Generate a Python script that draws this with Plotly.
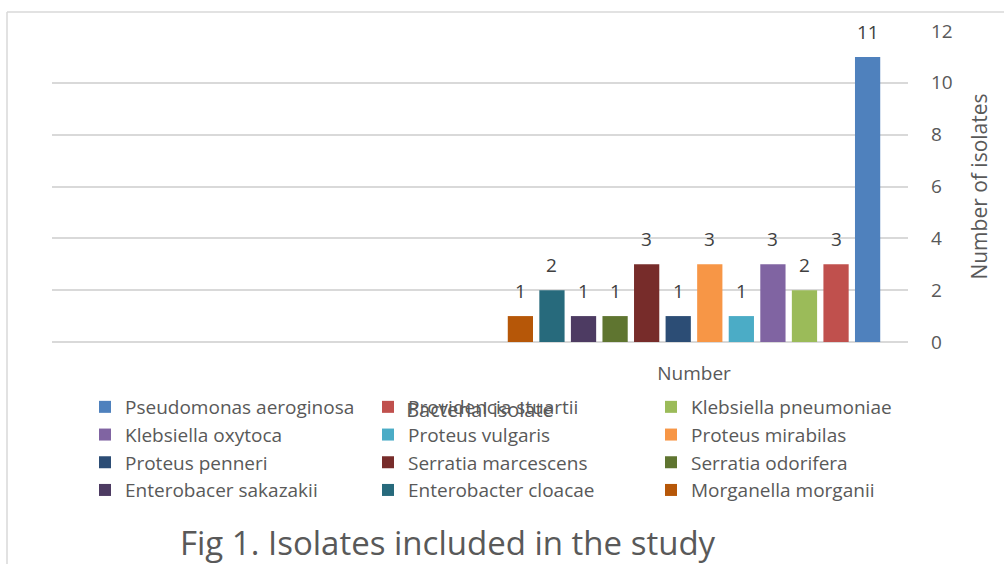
import plotly.graph_objects as go

# ---- data ----
series_names = [
    "Pseudomonas aeroginosa", "Providencia stuartii", "Klebsiella pneumoniae",
    "Klebsiella oxytoca", "Proteus vulgaris", "Proteus mirabilas",
    "Proteus penneri", "Serratia marcescens", "Serratia odorifera",
    "Enterobacer sakazakii", "Enterobacter cloacae", "Morganella morganii",
]
series_values = [11, 3, 2, 3, 1, 3, 1, 3, 1, 1, 2, 1]
series_colors = [
    "#4F81BD", "#C0504D", "#9BBB59", "#8064A2", "#4BACC6", "#F79646",
    "#2C4D75", "#772C2A", "#5F7530", "#4D3B62", "#276A7C", "#B65708",
]
category = ["Number"]
y_ticks = [0, 2, 4, 6, 8, 10, 12]

W, H = 1004, 564
L, R, T, B = 52, 96, 31, 222
PW, PH = W - L - R, H - T - B
BARGAP = 0.115
FONT = "Open Sans"
GREY = "#595959"


def px_x(x):
    return (x - L) / PW


def px_y(y):
    return (H - B - y) / PH


fig = go.Figure()
for name, val, col in zip(series_names, series_values, series_colors):
    fig.add_trace(go.Bar(
        x=category, y=[val], name=name, marker=dict(color=col, line=dict(width=0)),
    ))

# data labels positioned over each grouped bar
n = len(series_values)
gw = 1 - BARGAP
annotations = []
for i, val in enumerate(series_values):
    xc = -gw / 2 + (i + 0.5) * gw / n
    annotations.append(dict(
        x=xc, y=val, xref="x", yref="y", text=str(val), showarrow=False,
        yanchor="bottom", yshift=10, font=dict(family=FONT, size=19, color="#404040"),
    ))

annotations.append(dict(
    x=px_x(448), y=px_y(542), xref="paper", yref="paper",
    text="Fig 1. Isolates included in the study", showarrow=False,
    xanchor="center", yanchor="middle", font=dict(family=FONT, size=33, color=GREY),
))

fig.update_layout(
    width=W, height=H,
    margin=dict(l=L, r=R, t=T, b=B, autoexpand=False),
    paper_bgcolor="white", plot_bgcolor="white",
    barmode="group", bargap=BARGAP, bargroupgap=0.2,
    font=dict(family=FONT, color=GREY),
    showlegend=True,
    legend=dict(
        orientation="h", x=px_x(85), y=px_y(388), xanchor="left", yanchor="top",
        entrywidth=238, entrywidthmode="pixels", traceorder="normal",
        font=dict(family=FONT, size=19, color=GREY), bgcolor="rgba(0,0,0,0)",
        itemclick=False, tracegroupgap=0,
    ),
    xaxis=dict(
        type="category", range=[1.5, -0.5], showgrid=False, zeroline=False,
        showline=False, ticks="", tickfont=dict(family=FONT, size=19, color=GREY),
        ticklabelstandoff=18,
        title=dict(text="Bacterial isolate", font=dict(family=FONT, size=20, color=GREY),
                   standoff=17),
    ),
    yaxis=dict(
        side="right", range=[0, 12], tickvals=y_ticks, showgrid=True,
        gridcolor="#D9D9D9", gridwidth=1.5, zeroline=True, zerolinecolor="#D9D9D9",
        zerolinewidth=1.5, showline=False, ticks="",
        tickfont=dict(family=FONT, size=19, color=GREY), ticklabelstandoff=22,
        title=dict(text="Number of isolates", font=dict(family=FONT, size=21, color=GREY),
                   standoff=20),
    ),
    annotations=annotations,
    shapes=[
        dict(type="line", xref="paper", yref="paper", x0=px_x(7), x1=px_x(1010),
             y0=px_y(12), y1=px_y(12), line=dict(color="#D9D9D9", width=1.5)),
        dict(type="line", xref="paper", yref="paper", x0=px_x(7), x1=px_x(7),
             y0=px_y(12), y1=px_y(570), line=dict(color="#D9D9D9", width=1.5)),
    ],
)

fig.write_html(
    "out.html",
    config={"displayModeBar": False},
    post_script="document.body.style.margin='0';document.body.style.overflow='hidden';",
)
